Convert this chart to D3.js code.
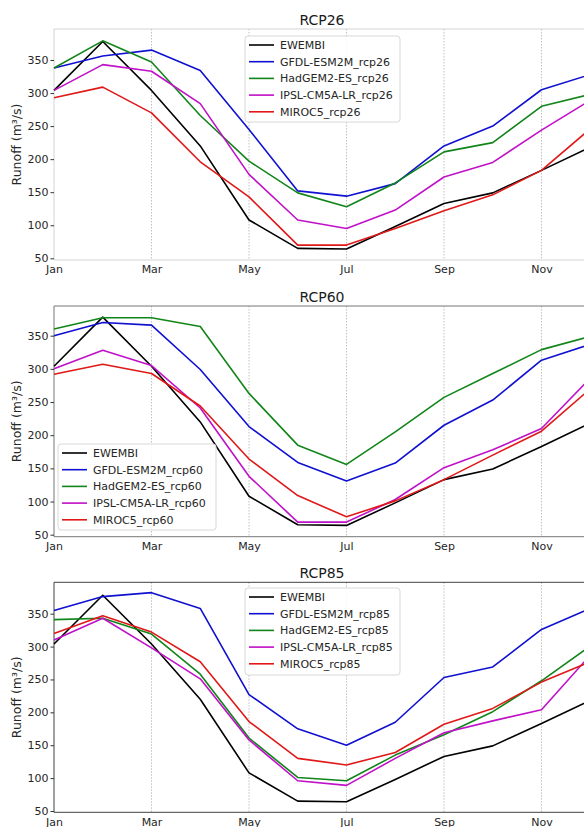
<!DOCTYPE html>
<html>
<head>
<meta charset="utf-8">
<script src="https://cdn.jsdelivr.net/npm/d3@7"></script>
<style>
  body { margin: 0; background: #fff; }
  svg { display: block; font-family: "DejaVu Sans", sans-serif; }
</style>
</head>
<body>
<svg id="chart" width="584" height="827"></svg>
<script>
var WIDTH = 584;
var HEIGHT = 827;

// month labels (ticks on every second month)
var months = ['Jan', 'Feb', 'Mar', 'Apr', 'May', 'Jun', 'Jul', 'Aug', 'Sep', 'Oct', 'Nov', 'Dec'];
var yTicks = [50, 100, 150, 200, 250, 300, 350];
var colors = ['#000000', '#1010d0', '#12851a', '#c010c8', '#e01818'];

// observed runoff, same in every panel
var ewembi = [304, 378, 304, 220, 108, 65, 64, 98, 133, 149, 183, 218];

// RCP2.6
var gfdl26 = [338, 356, 365, 334, 245, 152, 144, 163, 220, 250, 305, 328];
var had26 = [338, 379, 347, 266, 197, 149, 128, 164, 211, 225, 280, 298];
var ipsl26 = [304, 343, 333, 284, 177, 108, 95, 123, 173, 195, 244, 289];
var miroc26 = [293, 309, 270, 196, 143, 70, 70, 95, 122, 146, 183, 246];

// RCP6.0
var gfdl60 = [350, 370, 366, 299, 213, 159, 131, 158, 215, 253, 313, 337];
var had60 = [360, 377, 377, 364, 263, 185, 156, 205, 257, 293, 329, 349];
var ipsl60 = [300, 328, 305, 241, 138, 69, 69, 103, 151, 178, 210, 286];
var miroc60 = [292, 307, 293, 244, 164, 109, 77, 101, 133, 170, 206, 270];

// RCP8.5
var gfdl85 = [355, 376, 382, 358, 227, 175, 150, 185, 253, 269, 326, 358];
var had85 = [341, 343, 319, 258, 161, 101, 96, 135, 166, 201, 248, 301];
var ipsl85 = [310, 343, 298, 251, 158, 96, 89, 130, 169, 187, 204, 287];
var miroc85 = [320, 347, 322, 277, 186, 130, 120, 139, 182, 206, 246, 277];

var panels = [
  { title: 'RCP26', top: 29, bottom: 260, y50: 258.3, y350: 60, spine: '#d4d4d4',
    names: ['EWEMBI', 'GFDL-ESM2M_rcp26', 'HadGEM2-ES_rcp26', 'IPSL-CM5A-LR_rcp26', 'MIROC5_rcp26'],
    series: [ewembi, gfdl26, had26, ipsl26, miroc26],
    legend: { x: 245, y: 36, w: 155, h: 86 } },
  { title: 'RCP60', top: 306, bottom: 536.7, y50: 534.7, y350: 335.7, spine: '#777777',
    names: ['EWEMBI', 'GFDL-ESM2M_rcp60', 'HadGEM2-ES_rcp60', 'IPSL-CM5A-LR_rcp60', 'MIROC5_rcp60'],
    series: [ewembi, gfdl60, had60, ipsl60, miroc60],
    legend: { x: 58, y: 444, w: 158, h: 86 } },
  { title: 'RCP85', top: 582.3, bottom: 812.3, y50: 811, y350: 613.7, spine: '#404040',
    names: ['EWEMBI', 'GFDL-ESM2M_rcp85', 'HadGEM2-ES_rcp85', 'IPSL-CM5A-LR_rcp85', 'MIROC5_rcp85'],
    series: [ewembi, gfdl85, had85, ipsl85, miroc85],
    legend: { x: 245, y: 588, w: 155, h: 87 } }
];

var svg = d3.select('#chart');
var left = 54;

var x = d3.scaleLinear().domain([0, 11]).range([left, left + 11 * 48.75]);

panels.forEach(function(p) {
  var y = d3.scaleLinear().domain([50, 350]).range([p.y50, p.y350]);
  var g = svg.append('g');

  // dotted vertical grid at the labelled months
  g.selectAll('.grid')
    .data(d3.range(2, 12, 2))
    .enter().append('line')
    .attr('x1', function(d) { return x(d); })
    .attr('x2', function(d) { return x(d); })
    .attr('y1', p.top)
    .attr('y2', p.bottom)
    .attr('stroke', '#b0b0b0')
    .attr('stroke-width', 0.8)
    .attr('stroke-dasharray', '1.5,1.5');

  // frame (right side falls outside the picture)
  g.append('line').attr('x1', left).attr('x2', WIDTH).attr('y1', p.top).attr('y2', p.top)
    .attr('stroke', p.spine).attr('stroke-width', 1);
  g.append('line').attr('x1', left).attr('x2', WIDTH).attr('y1', p.bottom).attr('y2', p.bottom)
    .attr('stroke', p.spine).attr('stroke-width', 1);

  var yAxis = d3.axisLeft(y).tickValues(yTicks).tickSize(3.5).tickPadding(2);
  var ya = g.append('g').attr('transform', 'translate(' + left + ',0)').call(yAxis);
  ya.select('.domain').attr('d', 'M0,' + p.top + 'V' + p.bottom).attr('stroke', p.spine);
  ya.selectAll('.tick line').attr('stroke', '#333');
  ya.selectAll('text').attr('font-size', 11).attr('fill', '#262626')
    .attr('font-family', '"DejaVu Sans", sans-serif');

  var xAxis = d3.axisBottom(x).tickValues(d3.range(0, 12, 2))
    .tickFormat(function(d) { return months[d]; }).tickSize(0).tickPadding(5.5);
  var xa = g.append('g').attr('transform', 'translate(0,' + p.bottom + ')').call(xAxis);
  xa.select('.domain').remove();
  xa.selectAll('text').attr('font-size', 11).attr('fill', '#262626')
    .attr('font-family', '"DejaVu Sans", sans-serif');

  // y label
  g.append('text')
    .attr('transform', 'translate(17,' + ((p.top + p.bottom) / 2) + ') rotate(-90)')
    .attr('text-anchor', 'middle')
    .attr('dy', '0.35em')
    .attr('font-size', 12.5)
    .attr('fill', '#262626')
    .text('Runoff (m³/s)');

  // title
  g.append('text')
    .attr('x', 322)
    .attr('y', p.top - 4.5)
    .attr('text-anchor', 'middle')
    .attr('font-size', 14)
    .attr('fill', '#1a1a1a')
    .text(p.title);

  var line = d3.line()
    .x(function(d, i) { return x(i); })
    .y(function(d) { return y(d); });

  g.selectAll('.series')
    .data(p.series)
    .enter().append('path')
    .attr('d', line)
    .attr('fill', 'none')
    .attr('stroke', function(d, i) { return colors[i]; })
    .attr('stroke-width', 1.6)
    .attr('stroke-linejoin', 'round');

  // legend
  var L = p.legend;
  var lg = g.append('g').attr('transform', 'translate(' + L.x + ',' + L.y + ')');
  lg.append('rect')
    .attr('width', L.w).attr('height', L.h)
    .attr('rx', 3)
    .attr('fill', '#fff').attr('fill-opacity', 0.85)
    .attr('stroke', '#d8d8d8');
  var rows = lg.selectAll('.row')
    .data(p.names)
    .enter().append('g')
    .attr('transform', function(d, i) { return 'translate(0,' + (9 + i * 16.7) + ')'; });
  rows.append('line')
    .attr('x1', 4).attr('x2', 29)
    .attr('stroke', function(d, i) { return colors[i]; })
    .attr('stroke-width', 1.6);
  rows.append('text')
    .attr('x', 35)
    .attr('dy', '0.35em')
    .attr('font-size', 11)
    .attr('fill', '#262626')
    .text(function(d) { return d; });
});
</script>
</body>
</html>
